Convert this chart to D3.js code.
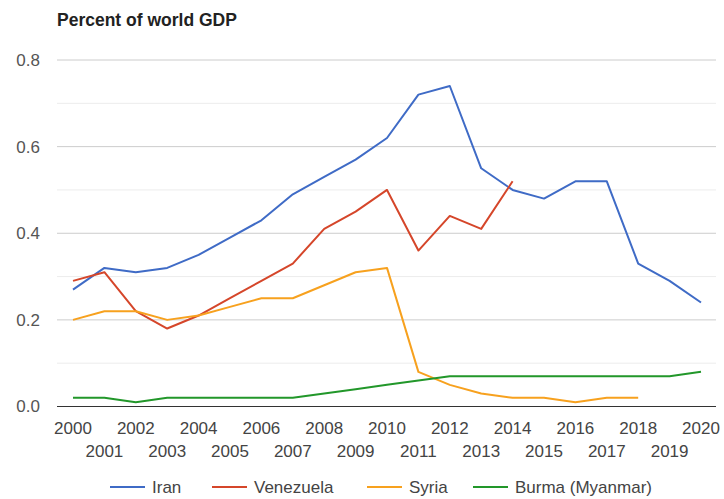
<!DOCTYPE html>
<html><head><meta charset="utf-8">
<script src="https://cdn.jsdelivr.net/npm/d3@7"></script>
<style>body{margin:0;background:#fff}svg{display:block}</style>
</head><body>
<svg id="c" width="724" height="499"></svg>
<script>
const years = d3.range(2000, 2021);
const iran = [0.27,0.32,0.31,0.32,0.35,0.39,0.43,0.49,0.53,0.57,0.62,0.72,0.74,0.55,0.50,0.48,0.52,0.52,0.33,0.29,0.24];
const venezuela = [0.29,0.31,0.22,0.18,0.21,0.25,0.29,0.33,0.41,0.45,0.50,0.36,0.44,0.41,0.52];
const syria = [0.20,0.22,0.22,0.20,0.21,0.23,0.25,0.25,0.28,0.31,0.32,0.08,0.05,0.03,0.02,0.02,0.01,0.02,0.02];
const burma = [0.02,0.02,0.01,0.02,0.02,0.02,0.02,0.02,0.03,0.04,0.05,0.06,0.07,0.07,0.07,0.07,0.07,0.07,0.07,0.07,0.08];
const seriesNames = ["Iran","Venezuela","Syria","Burma (Myanmar)"];
const seriesColors = ["#3f6bc6","#d5462a","#f7a11e","#22972a"];
const yTicks = [0,0.2,0.4,0.6,0.8];
const yMinor = [0.1,0.3,0.5,0.7];
const title = "Percent of world GDP";

const svg = d3.select("#c");
const font = "Arial, 'Liberation Sans', sans-serif";
const x = d3.scaleLinear().domain([2000,2020]).range([73,701]);
const y = d3.scaleLinear().domain([0,0.8]).range([406.5,60]);
const left = 57, right = 716;

svg.append("text").attr("x",57).attr("y",26).text(title)
  .attr("font-family",font).attr("font-weight","bold").attr("font-size",17.5).attr("fill","#222");

svg.selectAll(".minor").data(yMinor).enter().append("line")
  .attr("x1",left).attr("x2",right).attr("y1",d=>y(d)).attr("y2",d=>y(d))
  .attr("stroke","#ececec").attr("stroke-width",1);
svg.selectAll(".major").data(yTicks.filter(d=>d>0)).enter().append("line")
  .attr("x1",left).attr("x2",right).attr("y1",d=>y(d)).attr("y2",d=>y(d))
  .attr("stroke","#cccccc").attr("stroke-width",1);

svg.selectAll(".ylab").data(yTicks).enter().append("text")
  .attr("x",40).attr("y",d=>y(d)).attr("dy","0.35em").attr("text-anchor","end")
  .text(d=>d.toFixed(1)).attr("font-family",font).attr("font-size",17).attr("fill","#555");

svg.selectAll(".xlab").data(years).enter().append("text")
  .attr("x",d=>x(d)).attr("y",(d,i)=> i%2===0 ? 434 : 457).attr("text-anchor","middle")
  .text(d=>d).attr("font-family",font).attr("font-size",17).attr("fill","#444");

const all = [iran, venezuela, syria, burma];
const line = d3.line().x((d,i)=>x(years[i])).y(d=>y(d));
all.forEach((s,k)=>{
  svg.append("path").datum(s).attr("d",line).attr("fill","none")
    .attr("stroke",seriesColors[k]).attr("stroke-width",2).attr("stroke-linejoin","round");
});

svg.append("line").attr("x1",left).attr("x2",right).attr("y1",y(0)).attr("y2",y(0))
  .attr("stroke","#333").attr("stroke-width",1.2);

// legend
const legX = [110, 212, 367, 473];
const legY = 487;
seriesNames.forEach((n,k)=>{
  svg.append("line").attr("x1",legX[k]).attr("x2",legX[k]+35).attr("y1",legY).attr("y2",legY)
    .attr("stroke",seriesColors[k]).attr("stroke-width",2);
  svg.append("text").attr("x",legX[k]+42).attr("y",legY).attr("dy","0.35em").text(n)
    .attr("font-family",font).attr("font-size",17).attr("fill","#444");
});
</script>
</body></html>
